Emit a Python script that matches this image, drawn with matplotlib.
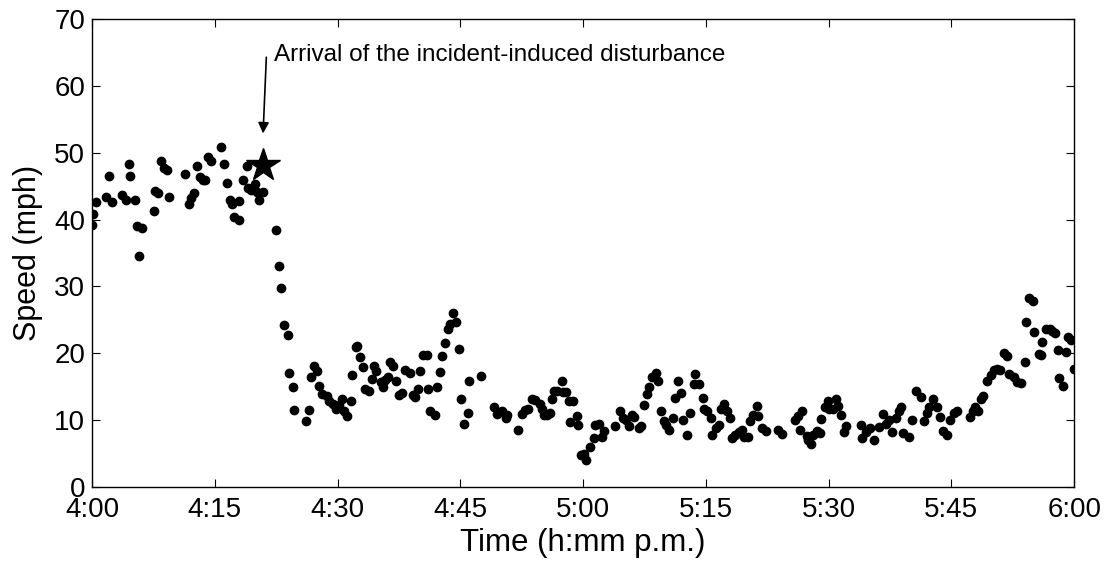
import numpy as np
import matplotlib
matplotlib.use('Agg')
import matplotlib.pyplot as plt

minutes = [0.0, 0.1, 0.5, 1.7, 2.1, 2.5, 3.7, 4.1, 4.5, 4.7, 5.2, 5.5, 5.7, 6.1,
           7.6, 7.7, 8.1, 8.4, 8.8, 9.2, 9.4, 11.4, 11.8, 12.1, 12.4, 12.8, 13.2,
           13.5, 13.8, 14.2, 14.5, 15.8, 16.1, 16.5, 16.8, 17.1, 17.4, 17.9, 18.0,
           18.5, 18.9, 19.0, 19.4, 19.9, 20.1, 20.4, 20.9, 22.5, 22.9, 23.1, 23.5,
           23.9, 24.1, 24.5, 24.7, 26.2, 26.5, 26.8, 27.1, 27.5, 27.7, 28.1, 28.7,
           29.0, 29.4, 29.8, 30.2, 30.6, 30.8, 31.2, 31.6, 31.8, 32.2, 32.4, 32.8,
           33.1, 33.4, 33.8, 34.2, 34.4, 34.7, 35.3, 35.5, 35.8, 36.2, 36.4, 36.8,
           37.2, 37.5, 37.9, 38.2, 38.8, 39.2, 39.5, 39.8, 40.1, 40.4, 40.9, 41.1,
           41.3, 41.9, 42.1, 42.5, 42.8, 43.1, 43.5, 43.7, 44.1, 44.5, 44.9, 45.1,
           45.5, 45.9, 46.1, 47.5, 49.1, 49.5, 50.1, 50.6, 50.7, 52.1, 52.5, 52.9,
           53.3, 53.7, 54.1, 54.7, 55.0, 55.2, 55.6, 55.9, 56.2, 56.4, 56.8, 57.4,
           57.5, 57.9, 58.3, 58.4, 58.8, 59.2, 59.4, 59.8, 60.1, 60.4, 60.9, 61.3,
           61.5, 61.9, 62.3, 62.5, 63.9, 64.5, 64.9, 65.3, 65.6, 66.0, 66.2, 66.8,
           67.1, 67.5, 67.8, 68.1, 68.4, 68.9, 69.1, 69.5, 69.9, 70.1, 70.5, 71.0,
           71.2, 71.6, 72.0, 72.2, 72.7, 73.1, 73.6, 73.7, 74.2, 74.6, 74.8, 75.2,
           75.6, 75.8, 76.2, 76.6, 76.8, 77.2, 77.6, 77.9, 78.2, 78.6, 79.0, 79.4,
           79.7, 80.2, 80.4, 80.8, 81.2, 81.4, 81.8, 82.3, 83.8, 84.3, 85.9, 86.2,
           86.5, 86.8, 87.3, 87.5, 87.9, 88.1, 88.6, 89.0, 89.1, 89.5, 89.9, 90.1,
           90.5, 90.9, 91.1, 91.5, 91.9, 92.1, 93.9, 94.1, 94.6, 95.0, 95.6, 96.2,
           96.7, 97.0, 97.4, 97.8, 98.2, 98.6, 98.8, 99.1, 99.8, 100.2, 100.7,
           101.3, 101.7, 102.0, 102.3, 102.8, 103.2, 103.6, 104.0, 104.5, 104.8,
           105.3, 105.7, 107.3, 107.6, 107.9, 108.3, 108.6, 108.9, 109.3, 109.8,
           110.2, 110.6, 111.0, 111.4, 111.8, 112.1, 112.6, 113.0, 113.5, 114.0,
           114.1, 114.5, 115.0, 115.1, 115.7, 116.0, 116.1, 116.6, 117.1, 117.3,
           117.6, 118.0, 118.2, 118.6, 119.0, 119.2, 119.6, 120.0]
speed = [39.2, 40.9, 42.7, 43.4, 46.5, 42.7, 43.7, 43.0, 48.3, 46.5, 43.0, 39.0, 34.6, 38.7,
         41.3, 44.3, 44.0, 48.8, 47.7, 47.5, 43.4, 46.8, 42.4, 43.2, 44.0, 48.0, 46.4,
         46.0, 46.0, 49.4, 48.8, 50.8, 48.3, 45.5, 43.0, 42.4, 40.4, 39.9, 42.8,
         46.0, 48.0, 44.7, 44.5, 45.3, 44.2, 43.0, 44.2, 38.5, 33.1, 29.8, 24.2,
         22.7, 17.1, 14.9, 11.5, 9.8, 11.5, 16.4, 18.1, 17.4, 15.1, 13.9, 13.6,
         12.8, 12.4, 11.6, 12.3, 13.2, 11.3, 10.6, 12.8, 16.8, 21.0, 21.1, 19.4,
         17.9, 14.6, 14.4, 16.1, 18.1, 17.4, 15.7, 15.0, 16.0, 16.5, 18.7, 18.1,
         15.9, 13.7, 14.1, 17.5, 17.1, 13.7, 13.4, 14.6, 17.4, 19.7, 19.7, 14.6,
         11.3, 10.8, 14.9, 17.2, 19.6, 21.5, 23.7, 24.4, 26.1, 24.7, 20.7, 13.1,
         9.5, 11.1, 15.9, 16.6, 11.9, 10.9, 11.3, 10.3, 10.8, 8.5, 10.9, 11.5,
         11.7, 13.1, 13.0, 12.4, 11.6, 10.8, 10.8, 11.0, 13.1, 14.4, 14.4, 15.9,
         14.2, 14.2, 12.9, 9.7, 12.9, 10.6, 9.3, 4.8, 5.0, 4.1, 6.0, 7.3,
         9.3, 9.5, 7.5, 8.4, 9.1, 11.3, 10.3, 10.0, 9.1, 10.8, 10.5, 8.8,
         9.1, 12.3, 13.9, 14.9, 16.4, 17.0, 15.9, 11.3, 9.8, 9.3, 8.6, 10.3,
         13.3, 15.9, 14.1, 10.0, 7.8, 11.0, 15.4, 16.9, 15.4, 13.3, 11.6, 11.4,
         10.3, 7.8, 8.8, 9.3, 11.6, 12.4, 11.4, 10.3, 7.3, 7.8, 8.3, 8.5,
         7.5, 7.5, 9.8, 10.8, 12.1, 10.6, 8.8, 8.4, 8.5, 8.0, 10.0, 10.6,
         8.6, 11.4, 7.6, 7.0, 6.5, 7.8, 8.4, 8.1, 10.1, 12.0, 12.8, 11.7,
         11.7, 13.1, 12.1, 10.8, 8.3, 9.1, 9.3, 7.3, 8.3, 8.8, 7.0, 9.0,
         10.9, 9.5, 10.0, 8.3, 10.3, 11.3, 11.9, 8.1, 7.5, 10.0, 14.3,
         13.5, 9.8, 11.0, 12.0, 13.1, 11.9, 10.4, 8.4, 7.8, 10.0,
         11.0, 11.3, 10.4, 11.3, 12.0, 11.3, 13.1, 13.6, 15.9, 16.7,
         17.5, 17.6, 17.5, 20.0, 19.6, 16.9, 16.5, 15.7, 15.6, 18.7,
         24.7, 28.3, 27.8, 23.2, 19.9, 19.7, 21.7, 23.6, 23.7, 23.4,
         23.1, 20.5, 16.3, 15.1, 20.2, 22.4, 22.0, 17.6]

star_time = 20.9
star_speed = 48.2

tick_minutes = [0, 15, 30, 45, 60, 75, 90, 105, 120]
tick_labels = ['4:00', '4:15', '4:30', '4:45', '5:00', '5:15', '5:30', '5:45', '6:00']

plt.rcParams['font.family'] = ['Liberation Sans', 'DejaVu Sans']

fig = plt.figure(figsize=(11.06, 5.63), dpi=100, facecolor='white')
ax = fig.add_axes([0.0832, 0.135, 0.888, 0.831])

ax.plot(minutes, speed, 'o', color='black', markersize=6, linestyle='none')
ax.plot(star_time, star_speed, '*', color='black', markersize=25)

ax.annotate('', xy=(20.9, 52.9), xytext=(21.3, 64.3),
            arrowprops=dict(arrowstyle='-|>', color='black', lw=1.2,
                            mutation_scale=16, shrinkA=0, shrinkB=0))
ax.text(22.2, 64.6, 'Arrival of the incident-induced disturbance',
        fontsize=17.5, va='center', ha='left')

ax.set_xlim(0, 120)
ax.set_ylim(0, 70)
ax.set_xticks(tick_minutes)
ax.set_xticklabels(tick_labels)
ax.set_yticks(np.arange(0, 71, 10))
ax.tick_params(direction='in', top=True, right=True, length=6, labelsize=20)
ax.tick_params(axis='x', pad=7)
ax.tick_params(axis='y', pad=5)
ax.set_xlabel('Time (h:mm p.m.)', fontsize=22.5, labelpad=4)
ax.set_ylabel('Speed (mph)', fontsize=22, labelpad=8)
for s in ax.spines.values():
    s.set_linewidth(1.0)

fig.savefig('out.png', dpi=100)
